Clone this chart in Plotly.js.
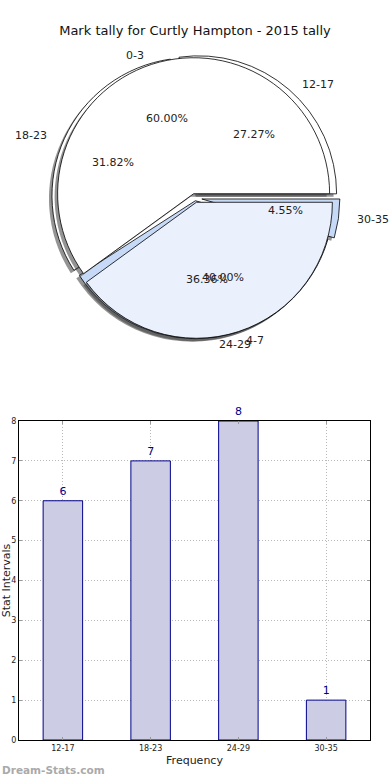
<!DOCTYPE html>
<html>
<head>
<meta charset="utf-8">
<script src="https://cdn.plot.ly/plotly-3.0.1.min.js"></script>
<style>html,body{margin:0;padding:0;background:#fff;}#chart{width:390px;height:780px;}</style>
</head>
<body>
<div id="chart"></div>
<script>
// ---- data ----
const titleText = 'Mark tally for Curtly Hampton - 2015 tally';
const pieOneLabels = ['0-3', '4-7'];
const pieOneValues = [3, 2];
const pieTwoLabels = ['12-17', '18-23', '24-29', '30-35'];
const pieTwoValues = [6, 7, 8, 1];
const barCategories = ['12-17', '18-23', '24-29', '30-35'];
const barValues = [6, 7, 8, 1];
const xTitle = 'Frequency';
const yTitle = 'Stat Intervals';
const watermark = 'Dream-Stats.com';

// ---- styling / layout constants ----
const W = 390, H = 780;
const FONT = 'DejaVu Sans, sans-serif';
const CX = 195, CY = 198, RX = 141, RY = 132;
const pieOnePull = [0.033, 0.033];
const pieTwoPull = [0.04, 0.04, 0.02, 0.05];
const pieOneColors = ['#ffffff', '#eaf1fc'];
const pieTwoColors = ['#ffffff', '#ffffff', '#c6d9f6', '#c6d9f6'];

const px = v => v / W;
const py = v => 1 - v / H;
const rev = a => a.slice().reverse();

function domainFor(r, pulls, dx, dy) {
  const maxPull = Math.max.apply(null, pulls);
  const half = r * (1 + maxPull);
  return {
    x: [px(CX - half + dx), px(CX + half + dx)],
    y: [py(CY + half + dy), py(CY - half + dy)]
  };
}

// slices are laid clockwise from 3 o'clock; feeding them in reverse order
// reproduces the counter-clockwise layout of the reference
function pieTrace(labels, values, pulls, colors, r, dx, dy, shadow) {
  return {
    type: 'pie',
    labels: rev(labels),
    values: rev(values),
    sort: false,
    direction: 'clockwise',
    rotation: 90,
    pull: rev(pulls),
    textinfo: 'none',
    hoverinfo: 'skip',
    showlegend: false,
    domain: domainFor(r, pulls, dx, dy),
    marker: shadow
      ? {colors: labels.map(() => 'rgba(60,60,60,0.55)'), line: {width: 0}}
      : {colors: rev(colors), line: {color: '#000000', width: 0.8}}
  };
}

const annotations = [];
function pieText(labels, values, pulls) {
  const total = values.reduce((a, b) => a + b, 0);
  let cum = 0;
  labels.forEach((lab, i) => {
    const mid = (cum + values[i] / 2) / total * 2 * Math.PI;
    cum += values[i];
    const c = Math.cos(mid), s = Math.sin(mid);
    const ox = pulls[i] * RX * c, oy = pulls[i] * RY * s;
    annotations.push({
      xref: 'paper', yref: 'paper', showarrow: false,
      x: px(CX + ox + 1.1 * RX * c), y: py(CY - oy - 1.1 * RY * s),
      xanchor: c >= 0 ? 'left' : 'right', yanchor: 'middle',
      text: lab, font: {family: FONT, size: 11, color: '#222'}
    });
    annotations.push({
      xref: 'paper', yref: 'paper', showarrow: false,
      x: px(CX + ox + 0.6 * RX * c), y: py(CY - oy - 0.6 * RY * s),
      xanchor: 'center', yanchor: 'middle',
      text: (values[i] / total * 100).toFixed(2) + '%',
      font: {family: FONT, size: 11, color: '#222'}
    });
  });
}
pieText(pieTwoLabels, pieTwoValues, pieTwoPull);
pieText(pieOneLabels, pieOneValues, pieOnePull);

annotations.push({
  xref: 'paper', yref: 'paper', showarrow: false,
  x: 0, y: py(770), xanchor: 'left', yanchor: 'middle',
  text: '<b>' + watermark + '</b>',
  font: {family: FONT, size: 10.5, color: '#aaaaaa'}
});

const traces = [
  pieTrace(pieTwoLabels, pieTwoValues, pieTwoPull, pieTwoColors, 138, -3, 3, true),
  pieTrace(pieTwoLabels, pieTwoValues, pieTwoPull, pieTwoColors, 138, 0, 0, false),
  pieTrace(pieOneLabels, pieOneValues, pieOnePull, pieOneColors, 136, -3, 3, true),
  pieTrace(pieOneLabels, pieOneValues, pieOnePull, pieOneColors, 136, 0, 0, false),
  {
    type: 'bar',
    x: barCategories,
    y: barValues,
    xaxis: 'x', yaxis: 'y',
    width: 0.45,
    marker: {color: '#ccccE4', line: {color: '#00008b', width: 1}},
    text: barValues.map(String),
    textposition: 'outside',
    cliponaxis: false,
    textfont: {family: FONT, size: 11, color: '#00008b'},
    hoverinfo: 'skip',
    showlegend: false
  }
];

const gridStyle = {showgrid: true, gridcolor: '#b8b8b8', griddash: '1px,2px', gridwidth: 1};

const layout = {
  width: W, height: H,
  margin: {l: 0, r: 0, t: 0, b: 0},
  paper_bgcolor: '#ffffff',
  plot_bgcolor: '#ffffff',
  font: {family: FONT, color: '#222'},
  title: {
    text: titleText,
    font: {family: FONT, size: 13, color: '#111'},
    x: 0.5, xanchor: 'center',
    y: py(30), yanchor: 'middle', yref: 'paper'
  },
  xaxis: Object.assign({
    domain: [px(19), px(370)],
    anchor: 'y',
    range: [-0.5, 3.5],
    type: 'category',
    showline: true, mirror: 'all', linecolor: '#000', linewidth: 1,
    ticks: 'inside', ticklen: 3, tickcolor: '#999',
    tickfont: {family: FONT, size: 8, color: '#222'},
    title: {text: xTitle, font: {family: FONT, size: 11, color: '#222'}, standoff: 4},
    automargin: false, zeroline: false, fixedrange: true
  }, gridStyle),
  yaxis: Object.assign({
    domain: [py(740), py(421)],
    anchor: 'x',
    range: [0, 8], dtick: 1,
    showline: true, mirror: 'all', linecolor: '#000', linewidth: 1,
    ticks: 'inside', ticklen: 3, tickcolor: '#999',
    tickfont: {family: FONT, size: 8, color: '#222'},
    title: {text: yTitle, font: {family: FONT, size: 11, color: '#222'}, standoff: 2},
    automargin: false, zeroline: false, fixedrange: true
  }, gridStyle),
  annotations: annotations,
  bargap: 0.55
};

Plotly.newPlot('chart', traces, layout, {staticPlot: true, displayModeBar: false});
</script>
</body>
</html>
